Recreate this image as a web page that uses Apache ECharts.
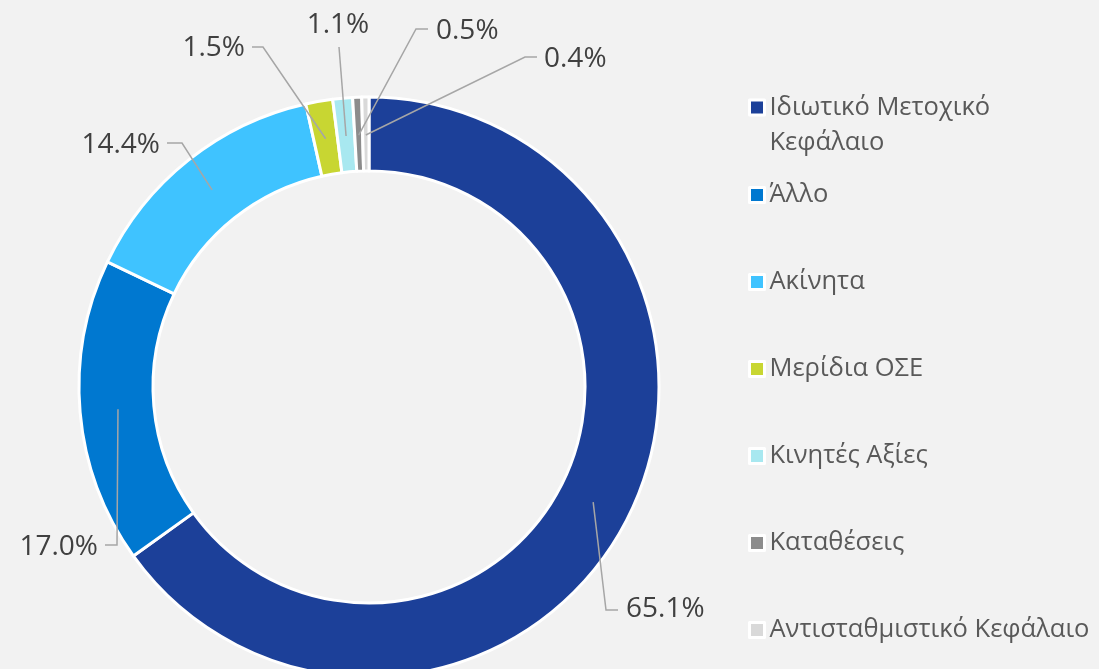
<!DOCTYPE html>
<html>
<head>
<meta charset="utf-8">
<script src="https://cdn.jsdelivr.net/npm/echarts@6/dist/echarts.min.js"></script>
<style>
html,body{margin:0;padding:0;background:#f2f2f2;}
#c{width:1099px;height:669px;}
</style>
</head>
<body>
<div id="c"></div>
<script>
// ---- data ----
const categories = ['Ιδιωτικό Μετοχικό Κεφάλαιο', 'Άλλο', 'Ακίνητα', 'Μερίδια ΟΣΕ', 'Κινητές Αξίες', 'Καταθέσεις', 'Αντισταθμιστικό Κεφάλαιο'];
const values = [65.1, 17.0, 14.4, 1.5, 1.1, 0.5, 0.4];
const colors = ['#1c4099', '#0078d0', '#3fc3ff', '#c8d632', '#a8e8f0', '#8c8c8c', '#d9d9d9'];

// ---- layout (label placement: elbow x,y ; text x,y ; align) ----
const CX = 369, CY = 387, R_IN = 216, R_OUT = 290;
const labelPlacement = [
  {ex: 606, ey: 610, hx: 618, tx: 626, ty: 609, align: 'left'},
  {ex: 117, ey: 545, hx: 105, tx: 98, ty: 547, align: 'right'},
  {ex: 182, ey: 143, hx: 167, tx: 160, ty: 145, align: 'right'},
  {ex: 263, ey: 47, hx: 252, tx: 245, ty: 48, align: 'right'},
  {ex: 339, ey: 47, hx: 339, tx: 338, ty: 25, align: 'center'},
  {ex: 416, ey: 29, hx: 428, tx: 436, ty: 31, align: 'left'},
  {ex: 525, ey: 57, hx: 537, tx: 544, ty: 59, align: 'left'}
];

const total = values.reduce((a, b) => a + b, 0);
const cum = [];
values.reduce((acc, v, i) => { cum[i] = acc; return acc + v; }, 0);
const rMid = (R_IN + R_OUT) / 2 - 1;

const chart = echarts.init(document.getElementById('c'));
const FONT = '"Open Sans", "Noto Sans", sans-serif';

chart.setOption({
  backgroundColor: '#f2f2f2',
  color: colors,
  animation: false,
  legend: [
    {
      data: [categories[0]],
      orient: 'vertical',
      left: 748,
      top: 55,
      padding: 0,
      icon: 'rect',
      itemWidth: 15,
      itemHeight: 15,
      itemStyle: {borderColor: '#ffffff', borderWidth: 3},
      formatter: () => ' \nΙδιωτικό Μετοχικό\nΚεφάλαιο',
      textStyle: {fontFamily: FONT, fontSize: 25.5, color: '#595959', lineHeight: 35}
    },
    {
      data: categories.slice(1),
      orient: 'vertical',
      left: 748,
      top: 180,
      padding: 0,
      icon: 'rect',
      itemWidth: 15,
      itemHeight: 15,
      itemGap: 57,
      itemStyle: {borderColor: '#ffffff', borderWidth: 3},
      textStyle: {fontFamily: FONT, fontSize: 25.5, color: '#595959', lineHeight: 30}
    }
  ],
  series: [
    {
      type: 'pie',
      center: [CX, CY],
      radius: [R_IN, R_OUT],
      startAngle: 90,
      clockwise: true,
      z: 2,
      label: {show: false},
      labelLine: {show: false},
      emphasis: {disabled: true},
      itemStyle: {borderColor: '#ffffff', borderWidth: 3},
      data: categories.map((c, i) => ({name: c, value: values[i]}))
    },
    {
      type: 'pie',
      center: [CX, CY],
      radius: [R_IN, R_OUT],
      startAngle: 90,
      clockwise: true,
      z: 5,
      silent: true,
      avoidLabelOverlap: false,
      emphasis: {disabled: true},
      itemStyle: {color: 'rgba(0,0,0,0)', borderWidth: 0},
      label: {
        show: true,
        position: 'outside',
        formatter: p => p.value.toFixed(1) + '%',
        fontFamily: FONT,
        fontSize: 28,
        color: '#404040'
      },
      labelLine: {show: true, showAbove: true, lineStyle: {color: '#a6a6a6', width: 1.5}},
      labelLayout: function (params) {
        const i = params.dataIndex;
        const f = (cum[i] + values[i] / 2) / total;
        const th = f * 2 * Math.PI;
        const sx = CX + rMid * Math.sin(th);
        const sy = CY - rMid * Math.cos(th);
        const L = labelPlacement[i];
        return {
          x: L.tx,
          y: L.ty,
          align: L.align,
          verticalAlign: 'middle',
          labelLinePoints: [[sx, sy], [L.ex, L.ey], [L.hx, L.ey]]
        };
      },
      data: categories.map((c, i) => ({name: 'lbl' + i, value: values[i]}))
    }
  ]
});
</script>
</body>
</html>
